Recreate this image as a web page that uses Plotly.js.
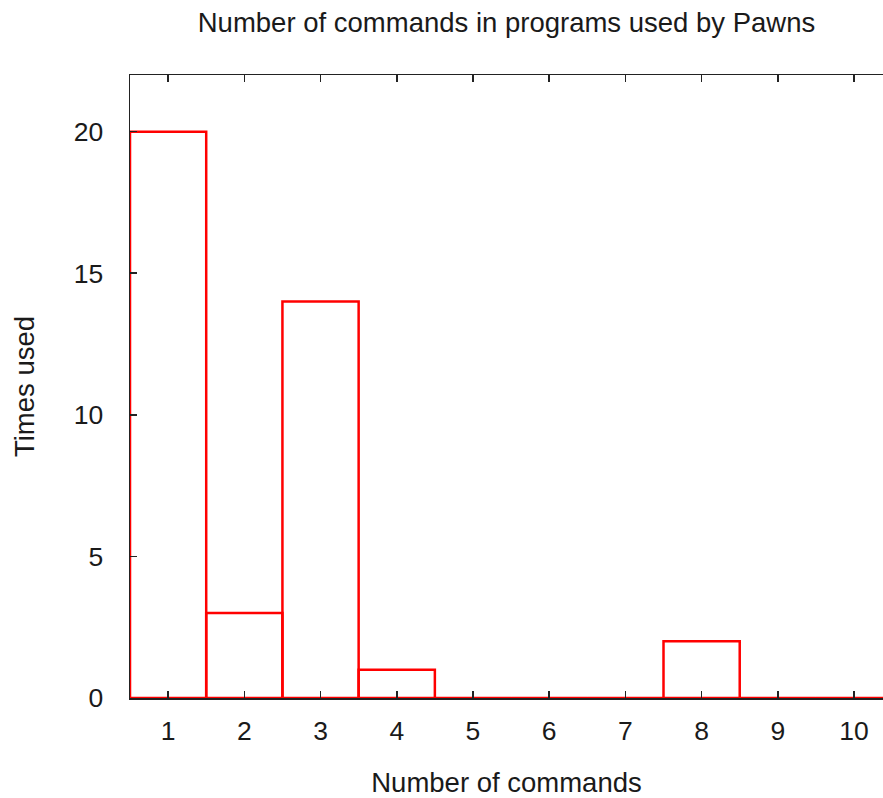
<!DOCTYPE html>
<html>
<head>
<meta charset="utf-8">
<script src="https://cdn.plot.ly/plotly-3.0.1.min.js"></script>
<style>html,body{margin:0;padding:0;background:#fff;}#chart{width:883px;height:798px;}</style>
</head>
<body>
<div id="chart"></div>
<script>
var commandCounts = [1, 2, 3, 4, 5, 6, 7, 8, 9, 10];
var timesUsed = [20, 3, 14, 1, 0, 0, 0, 2, 0, 0];
var xTickLabels = ['1', '2', '3', '4', '5', '6', '7', '8', '9', '10'];
var yTickValues = [0, 5, 10, 15, 20];

var FONT = 'Liberation Sans, Arial, sans-serif';
var FS = 27.5;
var trace = {
  type: 'bar',
  x: commandCounts,
  y: timesUsed,
  width: 1,
  marker: {color: 'rgba(0,0,0,0)', line: {color: '#ff0000', width: 2.5}},
  hoverinfo: 'x+y'
};

var layout = {
  width: 883, height: 798,
  margin: {l: 130, r: 0, t: 75, b: 100, pad: 0},
  paper_bgcolor: '#fff', plot_bgcolor: '#fff',
  showlegend: false,
  font: {family: FONT, size: FS, color: '#1a1a1a'},
  title: {text: 'Number of commands in programs used by Pawns', x: 0.5, xref: 'paper', xanchor: 'center', y: 1 - 22/798, yref: 'container', yanchor: 'middle', font: {family: FONT, size: FS, color: '#1a1a1a'}},
  xaxis: {
    range: [0.5, 10.38], tickvals: commandCounts, ticktext: xTickLabels,
    ticks: 'inside', ticklen: 7, tickwidth: 1.5, tickcolor: '#222',
    showline: true, linecolor: '#222', linewidth: 1.5, mirror: 'ticks',
    showgrid: false, zeroline: false, ticklabelstandoff: 9,
    tickfont: {family: FONT, size: 26.5, color: '#1a1a1a'},
    title: {text: 'Number of commands', standoff: 33, font: {family: FONT, size: FS, color: '#1a1a1a'}}
  },
  yaxis: {
    range: [0, 22], tickvals: yTickValues,
    ticks: 'inside', ticklen: 7, tickwidth: 1.5, tickcolor: '#222',
    showline: true, linecolor: '#222', linewidth: 1.5, mirror: false,
    showgrid: false, zeroline: true, zerolinecolor: '#ff0000', zerolinewidth: 2.5,
    ticklabelstandoff: 20,
    tickfont: {family: FONT, size: 26.5, color: '#1a1a1a'},
    title: {text: 'Times used', standoff: 31, font: {family: FONT, size: FS, color: '#1a1a1a'}}
  },
  bargap: 0
};
Plotly.newPlot('chart', [trace], layout, {displayModeBar: false, staticPlot: true});
</script>
</body>
</html>
